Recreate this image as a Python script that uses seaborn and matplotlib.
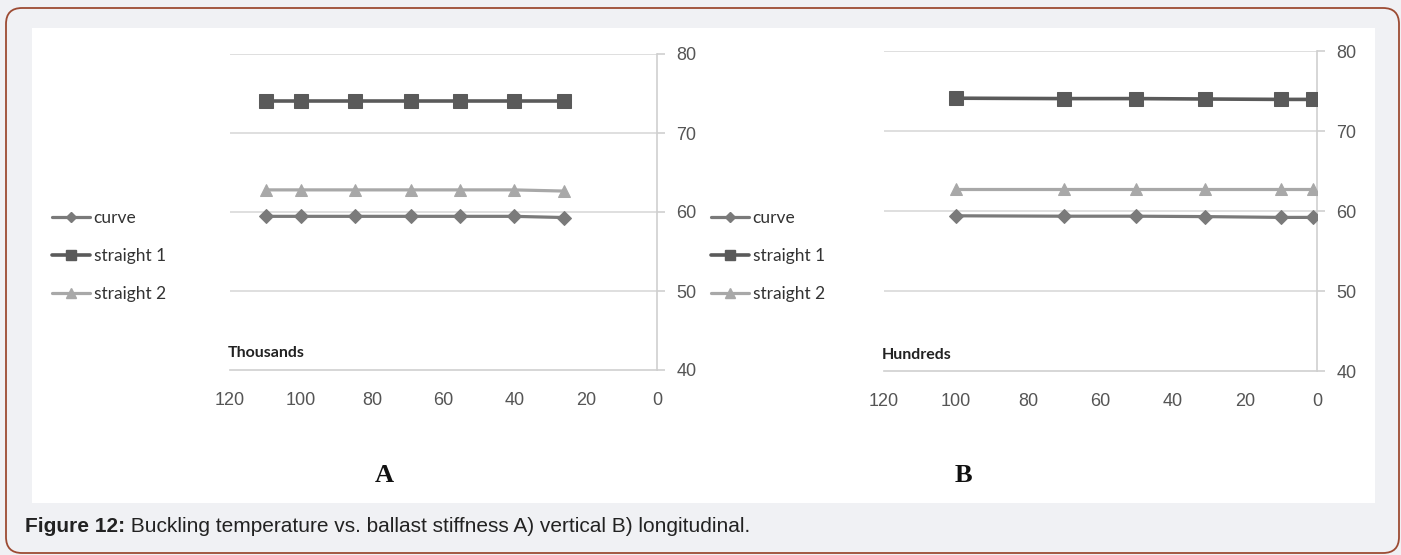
import numpy as np
import pandas as pd
import matplotlib
matplotlib.use("Agg")
import matplotlib.pyplot as plt
import seaborn as sns
from matplotlib.patches import FancyBboxPatch, Rectangle
from matplotlib.lines import Line2D
from matplotlib.transforms import IdentityTransform

# ---------------- data ----------------
series = ["curve", "straight 1", "straight 2"]

a_x = [110, 100, 85, 69, 55.5, 40.2, 26.2]
a_curve = [59.45, 59.45, 59.45, 59.45, 59.45, 59.45, 59.3]
a_straight1 = [74.0, 74.0, 74.0, 74.0, 74.0, 74.0, 74.0]
a_straight2 = [62.8, 62.8, 62.8, 62.8, 62.8, 62.8, 62.65]

b_x = [100, 70, 50.2, 31, 10, 1.1]
b_curve = [59.4, 59.35, 59.35, 59.3, 59.2, 59.2]
b_straight1 = [74.1, 74.05, 74.05, 74.0, 73.95, 73.95]
b_straight2 = [62.7, 62.7, 62.7, 62.7, 62.7, 62.7]

x_ticks = [0, 20, 40, 60, 80, 100, 120]
y_ticks = [40, 50, 60, 70, 80]
units = ["Thousands", "Hundreds"]
panel_labels = ["A", "B"]
caption_bold = "Figure 12:"
caption_rest = " Buckling temperature vs. ballast stiffness A) vertical B) longitudinal."

colors = {"curve": "#7a7a7a", "straight 1": "#5a5a5a", "straight 2": "#a8a8a8"}
markers = {"curve": "D", "straight 1": "s", "straight 2": "^"}
msizes = {"curve": 7, "straight 1": 9.5, "straight 2": 8.5}
lwidths = {"curve": 2.3, "straight 1": 2.6, "straight 2": 2.3}


def long_df(x, c, s1, s2):
    frames = []
    for name, vals in zip(series, [c, s1, s2]):
        frames.append(pd.DataFrame({"x": x, "y": vals, "series": name}))
    return pd.concat(frames, ignore_index=True)


df_a = long_df(a_x, a_curve, a_straight1, a_straight2)
df_b = long_df(b_x, b_curve, b_straight1, b_straight2)

# ---------------- figure ----------------
sns.set_style("white")
plt.rcParams["font.family"] = ["Liberation Sans", "DejaVu Sans"]
LEG_FONT = ["Lato", "Liberation Sans", "DejaVu Sans"]

W, H = 1401, 555
fig = plt.figure(figsize=(W / 100, H / 100), dpi=100)
fig.patch.set_facecolor("#f0f1f4")

# outer rounded border (pixel coordinates, origin bottom-left)
border = FancyBboxPatch((6, 2), 1393, 545,
                        boxstyle="round,pad=0,rounding_size=16",
                        transform=IdentityTransform(), facecolor="none",
                        edgecolor="#9c4b33", linewidth=1.3, zorder=0)
fig.patches.append(border)
# white panel
fig.patches.append(Rectangle((32, H - 503), 1375 - 32, 503 - 28,
                             transform=IdentityTransform(), facecolor="white",
                             edgecolor="none", zorder=0))


def make_axes(left, right, top, bottom):
    ax = fig.add_axes([left / W, 1 - bottom / H, (right - left) / W, (bottom - top) / H])
    ax.set_zorder(2)
    return ax


axA = make_axes(230, 657, 54, 370)
axB = make_axes(884, 1317, 51, 371)

legend_pos = [(52, 210), (711, 210)]
label_pos = [(384, 475), (963, 475)]
unit_y = [353, 355]

for ax, df, unit, lab, lpos, ppos, uy in zip([axA, axB], [df_a, df_b], units,
                                              panel_labels, legend_pos, label_pos, unit_y):
    ax.set_facecolor("none")
    for name in series:
        sub = df[df["series"] == name]
        sns.lineplot(data=sub, x="x", y="y", ax=ax, color=colors[name],
                     marker=markers[name], markersize=msizes[name],
                     markeredgecolor=colors[name], linewidth=lwidths[name],
                     legend=False, zorder=3)
    ax.set_xlim(120, 0)
    ax.set_ylim(40, 80)
    ax.set_xticks(x_ticks)
    ax.set_yticks(y_ticks)
    ax.yaxis.tick_right()
    ax.set_xlabel("")
    ax.set_ylabel("")
    for y in y_ticks[1:]:
        ax.axhline(y, color="#d9d9d9", linewidth=1.2, zorder=1)
    for s in ["top", "left"]:
        ax.spines[s].set_visible(False)
    for s in ["right", "bottom"]:
        ax.spines[s].set_color("#cfcfcf")
        ax.spines[s].set_linewidth(1.2)
    ax.tick_params(axis="both", direction="out", length=6, width=1.2,
                   color="#cfcfcf", labelcolor="#555555", labelsize=13)
    ax.tick_params(axis="x", pad=10)
    ax.tick_params(axis="y", pad=8)
    fig.text(ax.get_position().x0 - 2 / W, 1 - uy / H, unit, fontsize=11.5,
             fontweight="bold", color="#222222", ha="left", va="center",
             family=LEG_FONT)

    handles = [Line2D([0], [0], color=colors[n], marker=markers[n],
                      markersize=msizes[n] * 0.8, linewidth=lwidths[n])
               for n in series]
    leg = fig.legend(handles, series, loc="upper left",
                     bbox_to_anchor=(lpos[0] / W, 1 - lpos[1] / H),
                     frameon=False, labelspacing=1.27,
                     handlelength=2.2, handletextpad=0.2, borderpad=0,
                     borderaxespad=0, prop={"size": 12.5, "family": LEG_FONT})
    for t in leg.get_texts():
        t.set_color("#333333")
    leg.set_zorder(3)
    fig.text(ppos[0] / W, 1 - ppos[1] / H, lab, fontsize=19, fontweight="bold",
             family=["Liberation Serif", "DejaVu Serif"], ha="center", va="center",
             color="#111111")

# caption
t1 = fig.text(25 / W, 1 - 527 / H, caption_bold, fontsize=15, fontweight="bold",
              ha="left", va="center", color="#222222")
fig.canvas.draw()
bb = t1.get_window_extent(renderer=fig.canvas.get_renderer())
fig.text(bb.x1 / W, 1 - 527 / H, caption_rest, fontsize=15,
         ha="left", va="center", color="#222222")

fig.savefig("out.png", dpi=100, facecolor=fig.get_facecolor())
